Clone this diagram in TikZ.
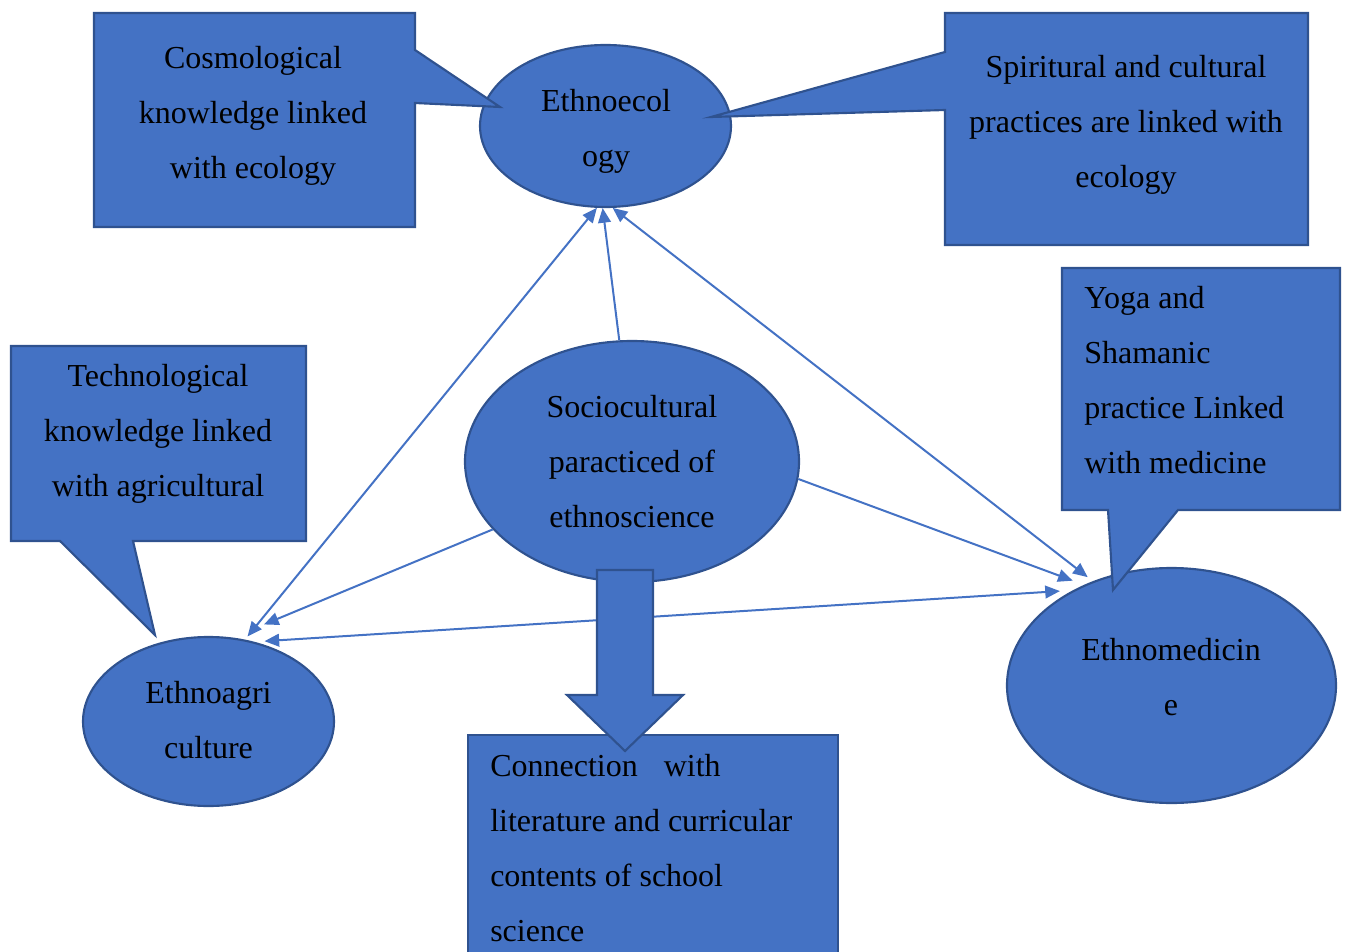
\documentclass[tikz,border=0pt]{standalone}
\usepackage{fontspec}
\setmainfont{Liberation Serif}
\usetikzlibrary{arrows.meta,shapes.geometric}
\definecolor{fillblue}{HTML}{4472C4}
\definecolor{edgeblue}{HTML}{2F528F}
\definecolor{lineblue}{HTML}{4472C4}
\begin{document}
\begin{tikzpicture}[x=0.75pt,y=-0.75pt,
 shapebox/.style={fill=fillblue,draw=edgeblue,line width=1.6pt,line join=miter},
 oval/.style={ellipse,fill=fillblue,draw=edgeblue,line width=1.6pt,inner sep=0pt},
 txt/.style={font=\fontsize{24}{41.25}\selectfont,inner sep=0pt,text=black},
 tipa/.tip={Triangle[length=11pt,width=9.5pt]},
 link/.style={draw=lineblue,line width=1.5pt,-tipa},
 link2/.style={draw=lineblue,line width=1.5pt,tipa-tipa},
]
\useasboundingbox (0,0) rectangle (1349,952);
\clip (0,0) rectangle (1349,952);

% bottom box
\draw[shapebox] (468,735) rectangle (838,975);
\node[txt,align=left,anchor=west] (conntext) at (490,848) {Connection\hspace{19.5pt}with\\literature and curricular\\contents of school\\science};

% ellipses
\node[oval,minimum width=188.25pt,minimum height=121.5pt] (eco) at (605.5,126) {};
\node[oval,minimum width=250.5pt,minimum height=180.75pt] (soc) at (632,461.5) {};
\node[oval,minimum width=188.25pt,minimum height=126.75pt] (agri) at (208.5,721.5) {};
\node[oval,minimum width=246.75pt,minimum height=176.25pt] (med) at (1171.5,685.5) {};

\node[txt,align=center] (ecotext) at (606,131) {Ethnoecol\\ogy};
\node[txt,align=center] (soctext) at (632,462) {Sociocultural\\paracticed of\\ethnoscience};
\node[txt,align=center] (agritext) at (208.5,720) {Ethnoagri\\culture};
\node[txt,align=center] (medtext) at (1171,677.5) {Ethnomedicin\\e};

% callouts
\draw[shapebox] (94,13) -- (415,13) -- (415,50) -- (500,107) -- (415,103) -- (415,227) -- (94,227) -- cycle;
\node[txt,align=center] (cosmotext) at (253,115.5) {Cosmological\\knowledge linked\\with ecology};

\draw[shapebox] (945,13) -- (1308,13) -- (1308,245) -- (945,245) -- (945,110) -- (711,117) -- (945,52) -- cycle;
\node[txt,align=center] (spirtext) at (1126,125) {Spiritural and cultural\\practices are linked with\\ecology};

\draw[shapebox] (11,346) -- (306,346) -- (306,541) -- (133,541) -- (155,635) -- (60,541) -- (11,541) -- cycle;
\node[txt,align=center] (techtext) at (158,434) {Technological\\knowledge linked\\with agricultural};

\draw[shapebox] (1062,268) -- (1340,268) -- (1340,510) -- (1178,510) -- (1113,590) -- (1108,510) -- (1062,510) -- cycle;
\node[txt,align=left,anchor=west] (yogatext) at (1084,380.5) {Yoga and\\Shamanic\\practice Linked\\with medicine};

% connectors
\draw[link] (soc.96) -- (eco.-92);
\draw[link2,shorten <=3pt] (agri.66) -- (eco.-96.3);
\draw[link2,shorten <=4.9pt] (med.127.1) -- (eco.-85.8);
\draw[link,shorten >=25.5pt] (soc.-154.7) -- (agri.74);
\draw[link,shorten >=9pt] (soc.-6.8) -- (med.131.6);
\draw[link2,shorten <=7.5pt,shorten >=9.75pt] (agri.60.1) -- (med.136.3);

% block arrow
\draw[shapebox] (597,570) -- (653,570) -- (653,695) -- (683,695) -- (625,751) -- (567,695) -- (597,695) -- cycle;
\end{tikzpicture}
\end{document}
